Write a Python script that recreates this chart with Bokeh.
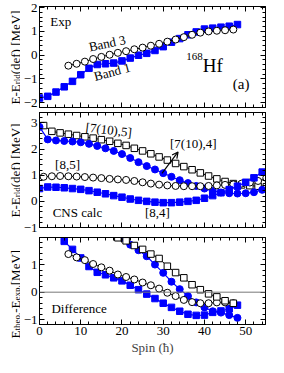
import math
from bokeh.plotting import figure
from bokeh.models import (Range1d, FixedTicker, LinearAxis, Label, Span, Arrow, OpenHead,
                          CustomJSTickFormatter)
from bokeh.layouts import column, row
from bokeh.embed import file_html
from bokeh.resources import INLINE

# ---------------- data ----------------
band1_spin = [0, 2, 4, 6, 8, 10, 12, 14, 16, 18, 20, 22, 24, 26, 28, 30, 32, 34, 36, 38, 40, 42, 44, 46, 48]
band1_e = [-1.80, -1.73, -1.55, -1.33, -1.10, -0.82, -0.55, -0.39, -0.36, -0.33, -0.24, -0.12, 0.00,
           0.08, 0.20, 0.36, 0.55, 0.70, 0.86, 0.98, 1.10, 1.14, 1.18, 1.22, 1.29]
band3_spin = [7, 9, 11, 13, 15, 17, 19, 21, 23, 25, 27, 29, 31, 33, 35, 37, 39, 41, 43, 45, 47]
band3_e = [-0.44, -0.36, -0.27, -0.16, -0.07, 0.02, 0.10, 0.17, 0.25, 0.32, 0.40, 0.48, 0.57, 0.66,
           0.76, 0.86, 0.95, 1.00, 1.03, 1.05, 1.08]

cns_7105_spin = [1, 3, 5, 7, 9, 11, 13, 15, 17, 19, 21, 23, 25, 27, 29, 31, 33, 35, 37, 39, 41, 43, 45, 47, 49, 51, 53, 55]
cns_7105_e = [2.90, 2.68, 2.62, 2.57, 2.52, 2.47, 2.42, 2.36, 2.30, 2.22, 2.14, 2.03, 1.93, 1.82,
              1.70, 1.58, 1.45, 1.33, 1.21, 1.09, 0.97, 0.86, 0.76, 0.68, 0.63, 0.60, 0.58, 0.56]
cns_7104_spin = [0, 2, 4, 6, 8, 10, 12, 14, 16, 18, 20, 22, 24, 26, 28, 30, 32, 34, 36, 38, 40, 42, 44, 46, 48, 50, 52, 54]
cns_7104_e = [2.85, 2.37, 2.33, 2.31, 2.29, 2.26, 2.20, 2.12, 2.03, 1.93, 1.81, 1.66, 1.50, 1.35,
              1.22, 1.08, 0.94, 0.81, 0.70, 0.59, 0.49, 0.40, 0.34, 0.31, 0.30, 0.31, 0.35, 0.44]
cns_85_spin = [1, 3, 5, 7, 9, 11, 13, 15, 17, 19, 21, 23, 25, 27, 29, 31, 33, 35, 37, 39, 41, 43, 45, 47, 49, 51, 53, 55]
cns_85_e = [0.94, 0.96, 0.97, 0.96, 0.95, 0.93, 0.91, 0.89, 0.86, 0.84, 0.82, 0.78, 0.73, 0.68,
            0.64, 0.61, 0.59, 0.58, 0.58, 0.58, 0.59, 0.61, 0.63, 0.65, 0.68, 0.72, 0.78, 0.90]
cns_84_spin = [0, 2, 4, 6, 8, 10, 12, 14, 16, 18, 20, 22, 24, 26, 28, 30, 32, 34, 36, 38, 40, 42, 44, 46, 48, 50, 52, 54]
cns_84_e = [0.49, 0.55, 0.54, 0.52, 0.49, 0.46, 0.41, 0.35, 0.29, 0.22, 0.16, 0.09, 0.04, 0.00,
            -0.03, -0.05, -0.05, -0.03, 0.00, 0.04, 0.12, 0.22, 0.33, 0.45, 0.58, 0.73, 0.90, 1.12]

diff_84_spin = [6, 8, 10, 12, 14, 16, 18, 20, 22, 24, 26, 28, 30, 32, 34, 36, 38, 40, 42, 44, 46, 48]
diff_84 = [1.84, 1.55, 1.24, 0.93, 0.72, 0.63, 0.52, 0.41, 0.25, 0.09, -0.07, -0.23, -0.40, -0.55,
           -0.69, -0.80, -0.84, -0.83, -0.73, -0.68, -0.60, -0.47]
diff_7104_spin = [20, 22, 24, 26, 28, 30, 32, 34, 36, 38, 40, 42, 44, 46, 48]
diff_7104 = [1.97, 1.72, 1.52, 1.30, 1.00, 0.70, 0.38, 0.11, -0.14, -0.37, -0.55, -0.69, -0.74, -0.83, -0.93]
diff_85_spin = [7, 9, 11, 13, 15, 17, 19, 21, 23, 25, 27, 29, 31, 33, 35, 37, 39, 41, 43, 45, 47]
diff_85 = [1.38, 1.26, 1.16, 1.02, 0.90, 0.78, 0.64, 0.55, 0.46, 0.35, 0.25, 0.13, -0.02, -0.14,
           -0.28, -0.36, -0.40, -0.40, -0.37, -0.37, -0.40]
diff_7105_spin = [19, 21, 23, 25, 27, 29, 31, 33, 35, 37, 39, 41, 43, 45, 47]
diff_7105 = [1.97, 1.86, 1.69, 1.55, 1.38, 1.22, 0.94, 0.71, 0.52, 0.27, 0.09, -0.06, -0.17, -0.31, -0.40]

x_major = [0, 10, 20, 30, 40, 50]
# ---------------------------------------

SERIF = "'Liberation Serif'"
BLUE = "#0000ff"
LW = 20          # width of the y-label strip
W = 268 - LW
H1, H2, H3 = 110, 124, 123
XR = Range1d(0, 54.8)

# Times-like advance widths (1/1000 em)
MET = {'E': 611, '-': 333, 'r': 333, 'l': 278, 'd': 500, '(': 333, ')': 333, 'e': 444, 'f': 333,
       ' ': 250, '[': 333, ']': 333, 'M': 889, 'V': 722, 't': 278, 'h': 500, 'o': 500, '.': 250,
       'x': 500, 'p': 500}


def tw(s, size):
    return sum(MET.get(c, 500) for c in s) * size / 1000.0


BLANK = CustomJSTickFormatter(code="return ''")


def make_fig(h, yr, yticks, ymin_ticks, top, bottom, show_x=False):
    p = figure(width=W, height=h, x_range=XR, y_range=Range1d(*yr), output_backend="svg",
               toolbar_location=None, min_border_left=10, min_border_right=3,
               min_border_top=top, min_border_bottom=bottom, x_axis_location=None,
               y_axis_location=None)
    p.grid.visible = False
    p.outline_line_color = "black"
    p.outline_line_width = 1
    p.background_fill_color = "white"
    p.border_fill_color = "white"
    xt = FixedTicker(ticks=x_major, minor_ticks=list(range(0, 56, 2)))
    yt = FixedTicker(ticks=yticks, minor_ticks=ymin_ticks)
    for loc in ("below", "above"):
        p.add_layout(LinearAxis(ticker=xt), loc)
    for loc in ("left", "right"):
        p.add_layout(LinearAxis(ticker=yt), loc)
    for ax in p.axis:
        ax.major_tick_in = 5
        ax.major_tick_out = 0
        ax.minor_tick_in = 3
        ax.minor_tick_out = 0
        ax.axis_line_color = "black"
        ax.major_tick_line_color = "black"
        ax.minor_tick_line_color = "black"
        ax.major_label_text_font = SERIF
        ax.major_label_text_font_size = "13px"
        ax.major_label_text_color = "black"
        ax.major_label_standoff = 2
    hidden = p.above + p.right + ([] if show_x else p.below)
    for ax in hidden:
        ax.formatter = BLANK
        ax.major_label_standoff = 0
    return p


def txt(p, x, y, t, size=13, align="center", angle=0.0):
    p.add_layout(Label(x=x, y=y, text=t, text_font=SERIF, text_font_size=f"{size}px",
                       text_align=align, text_baseline="middle", angle=angle, text_color="black"))


def blue_sq(p, xs, ys):
    p.line(xs, ys, line_color=BLUE, line_width=1.2)
    p.scatter(xs, ys, marker="square", size=6.5, fill_color=BLUE, line_color=BLUE)


def blue_ci(p, xs, ys):
    p.line(xs, ys, line_color=BLUE, line_width=1.2)
    p.scatter(xs, ys, marker="circle", size=7, fill_color=BLUE, line_color=BLUE)


def open_sq(p, xs, ys):
    p.line(xs, ys, line_color="black", line_width=1)
    p.scatter(xs, ys, marker="square", size=6.5, fill_color="white", line_color="black", line_width=1)


def open_ci(p, xs, ys):
    p.line(xs, ys, line_color="black", line_width=1)
    p.scatter(xs, ys, marker="circle", size=7, fill_color="white", line_color="black", line_width=1)


def minor02(a, b):
    return [round(a + 0.2 * i, 1) for i in range(int(round((b - a) / 0.2)) + 1)]


# ---- panel 1: experiment ----
p1 = make_fig(H1, (-2.2, 2.05), [-2, -1, 0, 1, 2], minor02(-2.2, 2.0), 6, 3)
blue_sq(p1, band1_spin, band1_e)
open_ci(p1, band3_spin, band3_e)
txt(p1, 2.6, 1.4, "Exp", 13, "left")
txt(p1, 16.4, 0.5, "Band 3", 13, "center", 0.21)
txt(p1, 17.6, -0.7, "Band 1", 13, "center", 0.26)
txt(p1, 42.0, -0.45, "Hf", 19, "center")
txt(p1, 37.6, -0.05, "168", 11, "center")
txt(p1, 48.9, -1.22, "(a)", 15, "center")

# ---- panel 2: CNS calculations ----
p2 = make_fig(H2, (-1.0, 3.4), [-1, 0, 1, 2, 3], minor02(-1.0, 3.4), 2, 7)
open_sq(p2, cns_7105_spin, cns_7105_e)
blue_ci(p2, cns_7104_spin, cns_7104_e)
open_ci(p2, cns_85_spin, cns_85_e)
blue_sq(p2, cns_84_spin, cns_84_e)
txt(p2, 16.8, 2.74, "[7(10),5]", 13, "center", -0.12)
txt(p2, 6.8, 1.41, "[8,5]", 13, "center")
txt(p2, 3.2, -0.41, "CNS calc", 13, "left")
txt(p2, 37.3, 2.22, "[7(10),4]", 13, "center")
txt(p2, 28.6, -0.41, "[8,4]", 13, "center")
p2.add_layout(Arrow(end=OpenHead(size=6, line_width=1.2, line_color="black"),
                    x_start=29.7, y_start=1.07, x_end=33.6, y_end=1.89,
                    line_width=1.2, line_color="black"))

# ---- panel 3: differences ----
p3 = make_fig(H3, (-1.17, 1.98), [-1, 0, 1], minor02(-1.2, 2.0), 3, 0, show_x=True)
p3.add_layout(Span(location=0, dimension="width", line_color="#777777", line_width=1))
blue_sq(p3, diff_84_spin, diff_84)
blue_ci(p3, diff_7104_spin, diff_7104)
open_ci(p3, diff_85_spin, diff_85)
open_sq(p3, diff_7105_spin, diff_7105)
txt(p3, 2.9, -0.59, "Difference", 13, "left")
xa = p3.below[0]
xa.axis_label = "Spin (ħ)"
xa.axis_label_text_font = SERIF
xa.axis_label_text_font_size = "13px"
xa.axis_label_text_font_style = "normal"
xa.axis_label_standoff = 2

# ---- strip with the rotated y-axis titles ----
HT = H1 + H2 + H3
lab = figure(width=LW, height=HT, x_range=Range1d(0, LW), y_range=Range1d(HT, 0),
             output_backend="svg", toolbar_location=None, min_border=0,
             x_axis_location=None, y_axis_location=None)
lab.grid.visible = False
lab.outline_line_color = None


def ylabel(yc, pieces, xb=14.5):
    total = sum(tw(t, s) for t, s, _ in pieces)
    y = yc + total / 2.0
    for t, s, shift in pieces:
        lab.add_layout(Label(x=xb + shift, y=y, text=t, angle=math.pi / 2,
                             text_align="left", text_baseline="alphabetic", text_font=SERIF,
                             text_font_size=f"{s}px", text_color="black"))
        y -= tw(t, s)


ylabel(57, [("E-E", 13, 0), ("rld", 9, 2.4), ("(def) [MeV]", 13, 0)])
ylabel(H1 + 60, [("E-E", 13, 0), ("rld", 9, 2.4), ("(def) [MeV]", 13, 0)])
ylabel(H1 + H2 + 58, [("E", 13, 0), ("theo.", 9, 2.4), ("-E", 13, 0), ("exp.", 9, 2.4), (" [MeV]", 13, 0)])

layout = row(lab, column(p1, p2, p3, spacing=0), spacing=0)
open("out.html", "w").write(file_html(layout, INLINE))
